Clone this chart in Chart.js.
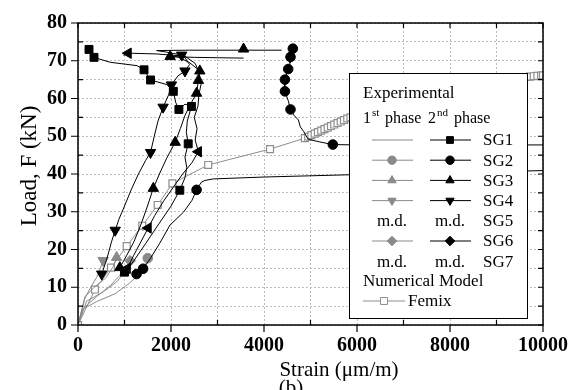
<!DOCTYPE html>
<html>
<head>
<meta charset="utf-8">
<script src="https://cdn.jsdelivr.net/npm/chart.js@4.4.0/dist/chart.umd.min.js"></script>
<style>
  html, body { margin: 0; padding: 0; background: #fff; }
</style>
</head>
<body>
<canvas id="chart" width="583" height="390"></canvas>
<script>
// strain (um/m), load (kN) pairs

// 1st phase (grey)
const sg1First = [[0,0],[120,4.5],[400,7.5],[700,10.5],[950,13.8]];
const sg2First = [[0,0],[100,4.2],[400,6.2],[800,8.3],[1100,11],[1350,13.8],[1450,15.8],[1500,17.7]];
const sg3First = [[0,0],[150,7.5],[350,10],[600,12.5],[760,15.5],[830,17.9]];
const sg4First = [[0,0],[150,7.1],[260,9.7],[400,12.6],[480,15],[540,17.1]];
const sg6First = [[0,0],[185,6.3],[545,8.8],[830,11.4],[1000,14],[1120,17]];
const sg2FirstMarks = [[1500,17.7]];
const sg3FirstMarks = [[830,17.9]];
const sg4FirstMarks = [[540,17.1]];
const sg6FirstMarks = [[1120,17]];

// 2nd phase (black)
const sg1Second = [[1000,13.7],[1200,17],[1450,21.5],[1750,27],[2000,31.5],[2190,35.7],[2300,39],[2340,41.7],[2300,44.5],
  [2370,48],[2330,51],[2350,54],[2440,57.9],[2300,58.5],[2170,57.1],[2100,59],[2050,61.9],[1910,63.7],[1560,64.9],
  [1420,67.6],[1270,68.7],[690,69.6],[344,70.9],[237,73]];
const sg1SecondMarks = [[1000,14],[2190,35.7],[2370,48],[2170,57.1],[2440,57.9],[2050,61.9],[1560,64.9],[1420,67.6],[344,70.9],[237,73]];

const sg2SecondLow = [[1260,13.5],[1400,14.9],[1550,17.5],[1750,21.5],[1980,26.5],[2270,29.9],[2450,33],[2550,35.8],
  [2650,37.8],[2730,38.3],[2910,38.7],[4000,39.2],[5850,39.8],[10000,40.9]];
const sg2SecondHigh = [[4620,73.2],[4570,71],[4560,69.4],[4520,67.8],[4450,65],[4440,63.5],[4450,61.9],[4520,59.5],
  [4570,57.1],[4650,55.5],[4740,54.3],[4780,52.5],[4850,51.3],[4950,49.2],[5200,48.5],[5480,47.8],[6000,47.7],[10000,47.7]];
const sg2SecondMarks = [[1260,13.5],[1400,14.9],[2550,35.8],[4620,73.2],[4570,71],[4520,67.8],[4450,65],[4450,61.9],[4570,57.1],[5480,47.8]];

const sg3Second = [[900,15.2],[1050,18.5],[1200,22],[1350,26.5],[1480,31],[1620,36.2],[1750,40],[1900,44],[2090,48.4],
  [2200,52],[2300,55.5],[2420,58.5],[2550,61.4],[2590,64.8],[2620,67.3],[2400,69.5],[2150,71],[1980,71.1],
  [2500,70.9],[3000,70.8],[3560,70.7]];
const sg3SecondMarks = [[900,15.2],[1620,36.2],[2090,48.4],[2550,61.4],[2590,64.8],[2620,67.3],[1980,71.1],[3560,73.1]];

const sg4Second = [[510,13.5],[620,17.5],[720,22],[800,25.1],[880,28],[1010,31.8],[1150,36],[1300,40],[1450,43.5],
  [1560,45.7],[1640,50],[1720,54],[1830,57.7],[1950,61],[2010,63.6],[2150,66],[2300,67.3],[2400,69],[2300,70.8],
  [2230,71.5],[1900,72.3],[1690,72.7],[2400,72.8],[3560,72.8],[4380,72.8]];
const sg4SecondMarks = [[510,13.5],[800,25.1],[1560,45.7],[1830,57.7],[2010,63.6],[2300,67.3],[2230,71.5]];

const sg6Second = [[1060,15],[1200,18.5],[1350,22],[1510,25.7],[1650,29],[1850,33],[2050,36.5],[2250,40],[2450,43],
  [2590,45.9],[2520,49],[2560,52],[2500,55],[2580,58],[2600,61],[2650,64],[2600,67],[2520,69.3],[2300,71.2],
  [1700,71.8],[1080,72],[980,71.4]];
const sg6SecondMarks = [[1060,15],[1510,25.7],[2590,45.9],[1080,72]];

// numerical model
const femix = [[0,0],[365,9.4],[710,15.2],[1047,20.9],[1383,26.3],[1714,31.8],[2030,37.5],[2800,42.4],[4130,46.6],
  [4880,49.5],[4950,49.9],[5020,50.3],[5090,50.7],[5160,51.1],[5230,51.5],[5300,51.9],[5370,52.3],[5440,52.7],
  [5510,53.1],[5580,53.5],[5650,53.9],[5720,54.3],[5790,54.7],[5860,55.0],[6200,56.1],[6600,57.5],[7000,58.9],
  [7400,60.2],[7800,61.3],[8200,62.4],[8600,63.4],[8680,63.6],[8760,63.8],[8840,64.0],[8920,64.3],[9000,64.5],
  [9080,64.7],[9160,64.9],[9240,65.0],[9320,65.2],[9400,65.3],[9480,65.5],[9560,65.6],[9640,65.7],[9720,65.8],
  [9800,65.9],[9880,66.0],[9960,66.1],[10000,66.1]];

const strainTicks = [0, 2000, 4000, 6000, 8000, 10000];
const loadTicks = [0, 10, 20, 30, 40, 50, 60, 70, 80];

const GREY = "#8a8a8a";
const FEMIX = "#8e8e8e";
const SERIF = "'Liberation Serif', 'Times New Roman', serif";

const pts = a => a.map(([x, y]) => ({ x, y }));

function lineSet(data, color, order) {
  return { data: pts(data), showLine: true, borderColor: color, borderWidth: 1, pointRadius: 0, order };
}
function markSet(data, color, style, radius, rotation, order) {
  return {
    data: pts(data), showLine: false, pointStyle: style, pointRadius: radius, pointRotation: rotation || 0,
    backgroundColor: color, borderColor: color, borderWidth: 1, order
  };
}

const datasets = [
  lineSet(sg1Second, "#000", 1), markSet(sg1SecondMarks, "#000", "rect", 5.6, 0, 0),
  lineSet(sg2SecondLow, "#000", 1), lineSet(sg2SecondHigh, "#000", 1), markSet(sg2SecondMarks, "#000", "circle", 4.8, 0, 0),
  lineSet(sg3Second, "#000", 1), markSet(sg3SecondMarks, "#000", "triangle", 6, 0, 0),
  lineSet(sg4Second, "#000", 1), markSet(sg4SecondMarks, "#000", "triangle", 6, 180, 0),
  lineSet(sg6Second, "#000", 1), markSet(sg6SecondMarks, "#000", "triangle", 6, 270, 0),
  lineSet(sg1First, GREY, 3),
  lineSet(sg2First, GREY, 3), markSet(sg2FirstMarks, GREY, "circle", 4.8, 0, 2),
  lineSet(sg3First, GREY, 3), markSet(sg3FirstMarks, GREY, "triangle", 6, 0, 2),
  lineSet(sg4First, GREY, 3), markSet(sg4FirstMarks, GREY, "triangle", 6, 180, 2),
  lineSet(sg6First, GREY, 3), markSet(sg6FirstMarks, GREY, "rectRot", 5.4, 0, 2),
  {
    data: pts(femix), showLine: true, borderColor: FEMIX, borderWidth: 1,
    pointStyle: "rect", pointRadius: 4.9, backgroundColor: "#fff", pointBorderColor: FEMIX, pointBorderWidth: 1.2, order: 4
  }
];

// frame, inward/outward ticks, titles
const framePlugin = {
  id: "frame",
  afterDraw(chart) {
    const { ctx, chartArea: a, scales: { x, y } } = chart;
    ctx.save();
    ctx.strokeStyle = "#000";
    ctx.lineWidth = 1.5;
    ctx.strokeRect(a.left, a.top, a.right - a.left, a.bottom - a.top);
    ctx.lineWidth = 1.2;
    ctx.beginPath();
    for (let v = 0; v <= 10000; v += 1000) {
      const px = x.getPixelForValue(v);
      if (strainTicks.includes(v)) { ctx.moveTo(px, a.bottom); ctx.lineTo(px, a.bottom + 7); }
      else { ctx.moveTo(px, a.bottom); ctx.lineTo(px, a.bottom - 5); }
      ctx.moveTo(px, a.top); ctx.lineTo(px, a.top + 5);
    }
    for (let v = 0; v <= 80; v += 5) {
      const py = y.getPixelForValue(v);
      if (loadTicks.includes(v)) { ctx.moveTo(a.left, py); ctx.lineTo(a.left - 7, py); }
      else { ctx.moveTo(a.left, py); ctx.lineTo(a.left + 5, py); }
      ctx.moveTo(a.right, py); ctx.lineTo(a.right - 5, py);
    }
    ctx.stroke();

    ctx.fillStyle = "#000";
    ctx.font = "21px " + SERIF;
    ctx.textAlign = "center";
    ctx.textBaseline = "middle";
    ctx.fillText("Strain (\u03bcm/m)", 339, 370);
    ctx.textBaseline = "top";
    ctx.fillText("(b)", 291, 378);
    ctx.translate(30, 166);
    ctx.rotate(-Math.PI / 2);
    ctx.textBaseline = "middle";
    ctx.font = "23px " + SERIF;
    ctx.fillText("Load, F (kN)", 0, 0);
    ctx.restore();
  }
};

// the boxed legend
const legendPlugin = {
  id: "boxLegend",
  afterDatasetsDraw(chart) {
    const ctx = chart.ctx;
    const draw = Chart.helpers.drawPoint;
    ctx.save();
    ctx.fillStyle = "#fff";
    ctx.fillRect(349, 73, 178, 245);
    ctx.strokeStyle = "#000";
    ctx.lineWidth = 1;
    ctx.strokeRect(349.5, 73.5, 178, 245);

    ctx.fillStyle = "#000";
    ctx.textAlign = "left";
    ctx.textBaseline = "alphabetic";
    ctx.font = "17px " + SERIF;
    ctx.fillText("Experimental", 363, 98);
    ctx.font = "16px " + SERIF;
    ctx.fillText("1", 363, 123);
    ctx.fillText("phase", 385, 123);
    ctx.fillText("2", 428, 123);
    ctx.fillText("phase", 454, 123);
    ctx.font = "11px " + SERIF;
    ctx.fillText("st", 372, 116);
    ctx.fillText("nd", 437, 116);

    const rows = [
      { label: "SG1", first: null, second: ["rect", 0] },
      { label: "SG2", first: ["circle", 0], second: ["circle", 0] },
      { label: "SG3", first: ["triangle", 0], second: ["triangle", 0] },
      { label: "SG4", first: ["triangle", 180], second: ["triangle", 180] },
      { label: "SG5", md: true },
      { label: "SG6", first: ["rectRot", 0], second: ["rectRot", 0] },
      { label: "SG7", md: true }
    ];
    rows.forEach((r, i) => {
      const cy = 140 + i * 20.2;
      ctx.font = "17px " + SERIF;
      ctx.textBaseline = "middle";
      ctx.textAlign = "left";
      ctx.fillStyle = "#000";
      ctx.fillText(r.label, 483, cy + 1);
      if (r.md) {
        ctx.textAlign = "center";
        ctx.fillText("m.d.", 392, cy + 1);
        ctx.fillText("m.d.", 450, cy + 1);
        return;
      }
      [[392, GREY, r.first], [450, "#000", r.second]].forEach(([cx, col, mk]) => {
        ctx.strokeStyle = col;
        ctx.fillStyle = col;
        ctx.lineWidth = 1;
        ctx.beginPath();
        ctx.moveTo(cx - 20, cy);
        ctx.lineTo(cx + 21, cy);
        ctx.stroke();
        if (mk) {
          const rad = mk[0] === "circle" ? 4.2 : 4.8;
          draw(ctx, { pointStyle: mk[0], rotation: mk[1], radius: rad, borderWidth: 1 }, cx, cy);
        }
      });
    });

    ctx.fillStyle = "#000";
    ctx.textAlign = "left";
    ctx.textBaseline = "middle";
    ctx.font = "17px " + SERIF;
    ctx.fillText("Numerical Model", 363, 282);
    ctx.fillText("Femix", 408, 302);
    ctx.strokeStyle = FEMIX;
    ctx.beginPath();
    ctx.moveTo(363, 301);
    ctx.lineTo(405, 301);
    ctx.stroke();
    ctx.fillStyle = "#fff";
    draw(ctx, { pointStyle: "rect", rotation: 0, radius: 4.9, borderWidth: 1 }, 384, 301);
    ctx.restore();
  }
};

const tickFont = { family: SERIF, size: 20, weight: "bold" };

new Chart(document.getElementById("chart"), {
  type: "scatter",
  data: { datasets },
  options: {
    responsive: false,
    animation: false,
    layout: { padding: { left: 0, right: 40, top: 8, bottom: 0 } },
    plugins: { legend: { display: false }, tooltip: { enabled: false } },
    scales: {
      x: {
        type: "linear", min: 0, max: 10000,
        afterFit: s => { s.height = 65; },
        ticks: {
          stepSize: 1000, autoSkip: false, maxRotation: 0, padding: 9, color: "#000", font: tickFont,
          callback: v => strainTicks.includes(v) ? String(v) : ""
        },
        grid: { color: "#bdbdbd", drawTicks: false },
        border: { display: false, dash: [2, 2] }
      },
      y: {
        type: "linear", min: 0, max: 80,
        afterFit: s => { s.width = 78; },
        ticks: {
          stepSize: 5, autoSkip: false, padding: 11, color: "#000", font: tickFont,
          callback: v => loadTicks.includes(v) ? String(v) : ""
        },
        grid: { color: "#bdbdbd", drawTicks: false },
        border: { display: false, dash: [2, 2] }
      }
    }
  },
  plugins: [legendPlugin, framePlugin]
});
</script>
</body>
</html>
